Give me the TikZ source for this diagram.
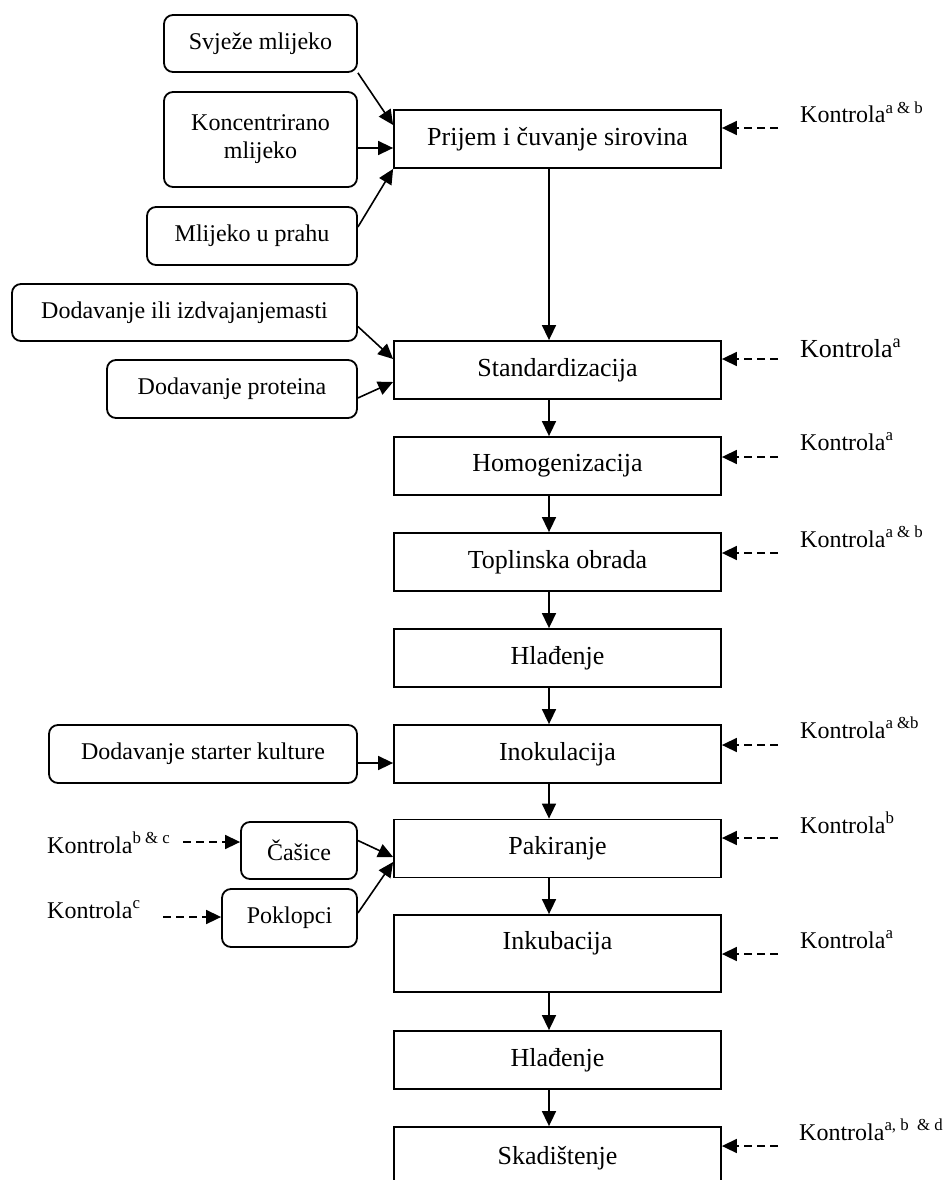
\documentclass[tikz,border=0pt]{standalone}
\usepackage{fontspec}
\setmainfont{Liberation Serif}
\usetikzlibrary{arrows.meta,calc}
\begin{document}
\begin{tikzpicture}[x=1pt,y=1pt,
 mainbox/.style={draw, line width=1.8pt, minimum width=327pt, minimum height=58pt, inner sep=0pt, font=\fontsize{26}{30}\selectfont},
 sbox/.style={draw, line width=1.8pt, rounded corners=9pt, inner sep=0pt, font=\fontsize{24}{28}\selectfont, align=center},
 flow/.style={line width=1.6pt, -{Triangle[length=15pt,width=14pt]}},
 ctrl/.style={flow, dash pattern=on 8pt off 5pt},
 klabel/.style={anchor=base west, inner sep=0pt, font=\fontsize{24}{28}\selectfont}]
\useasboundingbox (0,0) rectangle (942,-1180);
\clip (0,0) rectangle (942,-1180);

% main column
\node[mainbox] (prijem) at (557.5,-139) {Prijem i čuvanje sirovina};
\node[mainbox] (stand) at (557.5,-370) {Standardizacija};
\node[mainbox] (homo) at (557.5,-466) {Homogenizacija};
\node[mainbox] (topl) at (557.5,-562) {Toplinska obrada};
\node[mainbox] (hlad1) at (557.5,-658) {Hlađenje};
\node[mainbox] (inok) at (557.5,-754) {Inokulacija};
\node[mainbox] (pak) at (557.5,-848.5) {Pakiranje};
\node[mainbox, minimum height=77pt, text depth=26pt] (inku) at (557.5,-953.5) {Inkubacija};
\node[mainbox] (hlad2) at (557.5,-1060) {Hlađenje};
\node[mainbox, minimum height=62pt] (skad) at (557.5,-1158) {Skadištenje};

% side boxes
\node[sbox, minimum width=193pt, minimum height=57pt] (svj) at (260.5,-43.5) {Svježe mlijeko};
\node[sbox, minimum width=193pt, minimum height=95pt] (konc) at (260.5,-139.5) {Koncentrirano\\mlijeko};
\node[sbox, minimum width=210pt, minimum height=58pt] (prah) at (252,-236) {Mlijeko u prahu};
\node[sbox, minimum width=345pt, minimum height=57pt] (dod1) at (184.5,-312.5) {Dodavanje ili izdvajanjemasti};
\node[sbox, minimum width=250pt, minimum height=58pt] (dod2) at (232,-389) {Dodavanje proteina};
\node[sbox, minimum width=308pt, minimum height=58pt] (start) at (203,-754) {Dodavanje starter kulture};
\node[sbox, minimum width=116pt, minimum height=57pt] (cas) at (299,-850.5) {Čašice};
\node[sbox, minimum width=135pt, minimum height=58pt] (pok) at (289.5,-918) {Poklopci};

% main flow
\foreach \a/\b in {prijem/stand, stand/homo, homo/topl, topl/hlad1, hlad1/inok, inok/pak, pak/inku, inku/hlad2, hlad2/skad}
  \draw[flow] ([xshift=-8.5pt]\a.south) -- ([xshift=-8.5pt]\b.north);

% inputs
\draw[flow] (svj.south east) -- ([yshift=14pt]prijem.west);
\draw[flow] (konc.east |- 0,-148) -- (prijem.west |- 0,-148);
\draw[flow] ([yshift=9pt]prah.east) -- (prijem.south west);
\draw[flow] ([yshift=-14pt]dod1.east) -- ([yshift=11pt]stand.west);
\draw[flow] ([yshift=-9pt]dod2.east) -- ([yshift=-12pt]stand.west);
\draw[flow] ([yshift=-9pt]start.east) -- ([yshift=-9pt]inok.west);
\draw[flow] ([yshift=10pt]cas.east) -- ([yshift=-8.5pt]pak.west);
\draw[flow] ([yshift=5pt]pok.east) -- ([yshift=-13.5pt]pak.west);

% right-hand controls
\coordinate (r1) at (778,-128);
\coordinate (r2) at (778,-359);
\coordinate (r3) at (778,-457);
\coordinate (r4) at (778,-553);
\coordinate (r5) at (778,-745);
\coordinate (r6) at (778,-838);
\coordinate (r7) at (778,-954);
\coordinate (r8) at (778,-1146);
\draw[ctrl] (r1) -- (prijem.east |- r1);
\draw[ctrl] (r2) -- (stand.east |- r2);
\draw[ctrl] (r3) -- (homo.east |- r3);
\draw[ctrl] (r4) -- (topl.east |- r4);
\draw[ctrl] (r5) -- (inok.east |- r5);
\draw[ctrl] (r6) -- (pak.east |- r6);
\draw[ctrl] (r7) -- (inku.east |- r7);
\draw[ctrl] (r8) -- (skad.east |- r8);

\node[klabel] (k1) at (800,-123) {Kontrola\textsuperscript{a \& b}};
\node[klabel, font=\fontsize{26}{30}\selectfont] (k2) at (800,-357) {Kontrola\textsuperscript{a}};
\node[klabel] (k3) at (800,-450) {Kontrola\textsuperscript{a}};
\node[klabel] (k4) at (800,-547) {Kontrola\textsuperscript{a \& b}};
\node[klabel] (k5) at (800,-738) {Kontrola\textsuperscript{a \&b}};
\node[klabel] (k6) at (800,-833) {Kontrola\textsuperscript{b}};
\node[klabel] (k7) at (800,-948) {Kontrola\textsuperscript{a}};
\node[klabel] (k8) at (799,-1140) {Kontrola\textsuperscript{a, b\ \ \& d}};

% left-hand controls
\node[klabel] (kl1) at (47,-853) {Kontrola\textsuperscript{b \& c}};
\node[klabel] (kl2) at (47,-918) {Kontrola\textsuperscript{c}};
\coordinate (l1) at (183,-842);
\coordinate (l2) at (163,-917);
\draw[ctrl] (l1) -- (cas.west |- l1);
\draw[ctrl] (l2) -- (pok.west |- l2);
\end{tikzpicture}
\end{document}
